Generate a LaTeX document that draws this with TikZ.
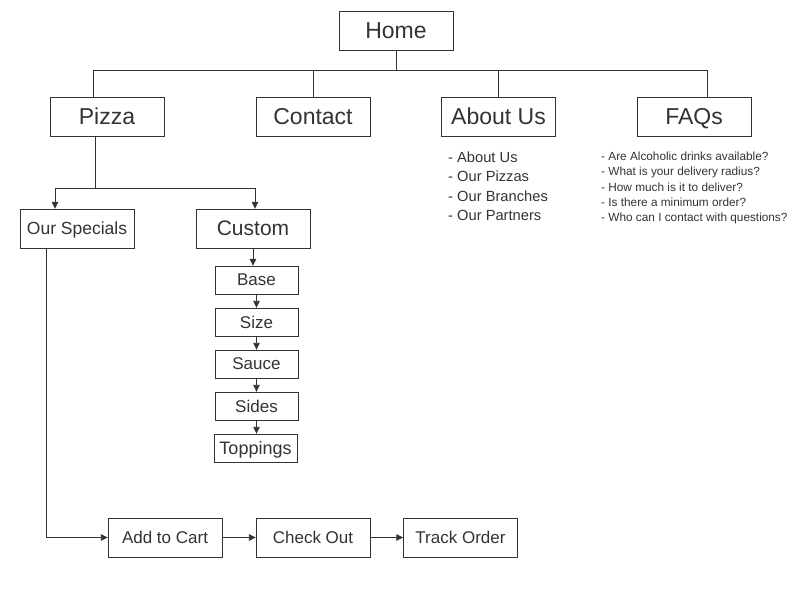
\documentclass[tikz,border=0pt]{standalone}
\usepackage{fontspec}
\setmainfont{Liberation Sans}
\usetikzlibrary{arrows.meta}
\definecolor{ink}{HTML}{333333}
\begin{document}
\begin{tikzpicture}[x=1pt, y=-1pt]
  \tikzstyle{page}=[draw=ink, fill=white, minimum width=114pt, minimum height=39pt, inner sep=0pt, text=ink, text depth=0pt, font=\fontsize{23}{26}\selectfont]
  \tikzstyle{sub}=[page, font=\fontsize{17.5}{20}\selectfont]
  \tikzstyle{option}=[draw=ink, fill=white, minimum width=83pt, minimum height=28pt, inner sep=0pt, text=ink, text depth=0pt, font=\fontsize{17}{19}\selectfont]
  \tikzstyle{lst}=[anchor=north west, align=left, inner sep=0pt, text=ink]
  \tikzstyle{wire}=[draw=ink, line width=0.9pt]
  \tikzstyle{arr}=[wire, -{Triangle[length=7pt, width=6.5pt]}]

  \useasboundingbox (0,0) rectangle (792,612);

  % nivel superior
  \node[page] (home) at (396,30.5) {Home};
  \node[page] (pizza) at (107,116.5) {Pizza};
  \node[page] (contact) at (313,116.5) {Contact};
  \node[page] (about) at (498.5,116.5) {About Us};
  \node[page] (faqs) at (694,116.5) {FAQs};

  % barramento
  \coordinate (busL) at (93,70);
  \coordinate (busR) at (707,70);
  \draw[wire] (busL) -- (busR);
  \draw[wire] (home.south) -- (home.south |- busL);
  \draw[wire] (busL) -- (busL |- pizza.north);
  \draw[wire] (contact.north) -- (contact.north |- busL);
  \draw[wire] (about.north) -- (about.north |- busL);
  \draw[wire] (busR) -- (busR |- faqs.north);

  % listas
  \node[lst, font=\fontsize{14.7}{19.5}\selectfont] (aboutlist) at (448,151.5)
    {- About Us\\- Our Pizzas\\- Our Branches\\- Our Partners};
  \node[lst, font=\fontsize{11.8}{15.2}\selectfont] (faqlist) at (601,152)
    {- Are Alcoholic drinks available?\\- What is your delivery radius?\\- How much is it to deliver?\\- Is there a minimum order?\\- Who can I contact with questions?};

  % pizza
  \node[sub] (specials) at (77,228.5) {Our Specials};
  \node[page, font=\fontsize{21}{24}\selectfont] (custom) at (253,228.5) {Custom};
  \coordinate (split) at (95,188);
  \coordinate (splitL) at (55,188);
  \coordinate (splitR) at (255,188);
  \draw[wire] (pizza.south -| split) -- (split);
  \draw[wire] (splitL) -- (splitR);
  \draw[arr] (splitL) -- (splitL |- specials.north);
  \draw[arr] (splitR) -- (splitR |- custom.north);

  % montagem
  \node[option] (base) at (256.5,280) {Base};
  \node[option] (size) at (256.5,322) {Size};
  \node[option] (sauce) at (256.5,364) {Sauce};
  \node[option] (sides) at (256.5,406) {Sides};
  \node[option, font=\fontsize{18}{20}\selectfont] (toppings) at (255.5,448) {Toppings};
  \draw[arr] (custom.south) -- (custom.south |- base.north);
  \draw[arr] (base) -- (size);
  \draw[arr] (size) -- (sauce);
  \draw[arr] (sauce) -- (sides);
  \draw[arr] (sides.south) -- (sides.south |- toppings.north);

  % pedido
  \node[sub, font=\fontsize{17}{20}\selectfont] (cart) at (165,537.5) {Add to Cart};
  \node[sub, font=\fontsize{17}{20}\selectfont] (checkout) at (313,537.5) {Check Out};
  \node[sub, font=\fontsize{17}{20}\selectfont] (track) at (460.5,537.5) {Track Order};
  \coordinate (turn) at (46,537.5);
  \draw[arr] (specials.south -| turn) -- (turn) -- (cart.west);
  \draw[arr] (cart) -- (checkout);
  \draw[arr] (checkout) -- (track);
\end{tikzpicture}
\end{document}
